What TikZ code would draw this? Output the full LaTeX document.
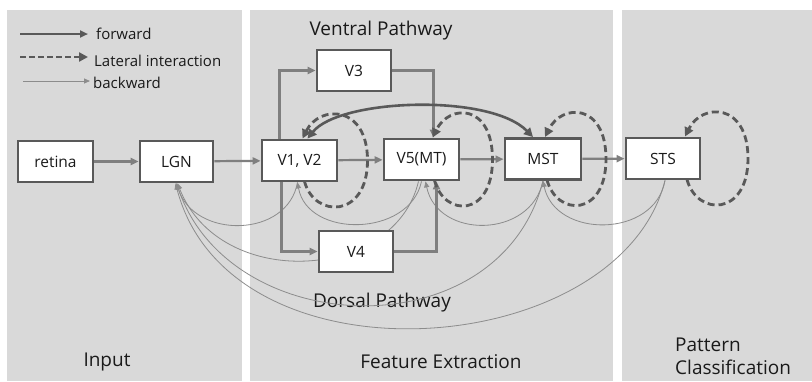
\documentclass[tikz,border=0pt]{standalone}
\usepackage{fontspec}
\setmainfont{Open Sans}
\usetikzlibrary{arrows.meta,calc}
\pgfdeclarelayer{bg}
\pgfsetlayers{bg,main}
\definecolor{panel}{HTML}{D9D9D9}
\definecolor{dark}{HTML}{595959}
\definecolor{fwdc}{HTML}{7F7F7F}
\definecolor{bwdc}{HTML}{8C8C8C}
\definecolor{txt}{HTML}{1A1A1A}
\tikzset{
  box/.style={draw=dark, line width=2.8pt, fill=white, minimum width=75pt, minimum height=41pt,
    inner sep=0pt, text=txt, font=\fontsize{15.5}{18}\selectfont},
  fwd/.style={draw=fwdc, line width=2.2pt, -{Triangle[length=8pt,width=7pt]}},
  thickfwd/.style={draw=dark, line width=2.6pt, {Triangle[length=9pt,width=9pt]}-{Triangle[length=9pt,width=9pt]}},
  lateral/.style={draw=dark, line width=2.8pt, dash pattern=on 7pt off 4pt, -{Triangle[length=9pt,width=9pt]}},
  bwd/.style={draw=bwdc, line width=0.8pt, -{Triangle[length=6pt,width=5pt]}},
  lbl/.style={text=txt, font=\fontsize{15}{18}\selectfont, inner sep=0pt},
  sect/.style={text=txt, font=\fontsize{19}{23}\selectfont, inner sep=0pt},
}
\newcommand{\latloop}[3]{%
  \draw[lateral] ($(#1.center)+(#2,21)$) .. controls ($(#1.center)+(#2+10,58)$) and ($(#1.center)+(#3,58)$) ..
    ($(#1.center)+(#3,0)$) .. controls ($(#1.center)+(#3,-56)$) and ($(#1.center)+(#2+15,-56)$) ..
    ($(#1.center)+(#2-2,-22)$);}
\begin{document}
\begin{tikzpicture}[x=1pt,y=-1pt]
\useasboundingbox (0,0) rectangle (812,381);
% panels
\begin{pgfonlayer}{bg}
\fill[panel] (7,10) rectangle (242,381);
\fill[panel] (250,10) rectangle (613,381);
\fill[panel] (622,10) rectangle (812,381);
\end{pgfonlayer}
% legend
\coordinate (lf0) at (20,34);
\coordinate (lf1) at (88,34);
\coordinate (ll0) at (20,57);
\coordinate (ll1) at (88,57);
\coordinate (lb0) at (23,81);
\coordinate (lb1) at (90,81);
\node[lbl, anchor=west] (lf) at (96,34) {forward};
\node[lbl, anchor=west] (ll) at (94,61) {Lateral interaction};
\node[lbl, anchor=west] (lb) at (93,83) {backward};
\draw[fwd, draw=dark] (lf0) -- (lf1);
\draw[lateral, dash pattern=on 6pt off 3pt] (ll0) -- (ll1);
\draw[bwd] (lb0) -- (lb1);
% section labels
\node[sect] (ventral) at (381,31) {Ventral Pathway};
\node[sect] (dorsal) at (382,303) {Dorsal Pathway};
\node[sect] (input) at (107,362) {Input};
\node[sect] (feat) at (441,362) {Feature Extraction};
\node[sect, anchor=west, align=left] (patt) at (675,356) {Pattern\\Classification};
% boxes
\node[box] (retina) at (55.5,161.5) {retina};
\node[box, minimum width=73pt] (LGN) at (176.5,161.5) {LGN};
\node[box] (V1) at (299.5,160.5) {V1, V2};
\node[box] (V5) at (421.5,159.5) {V5(MT)};
\node[box, minimum width=76pt] (MST) at (543,159) {MST};
\node[box, minimum width=74pt] (STS) at (663,158.5) {STS};
\node[box, minimum width=74pt] (V3) at (354,70.5) {V3};
\node[box, minimum width=74pt] (V4) at (356,251.5) {V4};
% backward connections
\begin{pgfonlayer}{bg}
\draw[bwd] ([xshift=-3pt]V5.south) .. controls +(-23.5,100) and +(42.5,108) .. ([xshift=1pt]LGN.south);
\end{pgfonlayer}
\draw[bwd] ([xshift=-2pt]V1.south) .. controls +(-10,56) and +(18,56) .. (LGN.south);
\draw[bwd] (V5.south) .. controls +(-12,56) and +(10,56) .. ([xshift=-2pt]V1.south);
\draw[bwd] (MST.south) .. controls +(-12,58) and +(12,58) .. ([xshift=4pt]V5.south);
\draw[bwd] (MST.south) .. controls +(-43,170) and +(53.5,158) .. (LGN.south);
\draw[bwd] ([xshift=2pt]STS.south) .. controls +(-10,58) and +(12,58) .. (MST.south);
\draw[bwd] ([xshift=2pt]STS.south) .. controls +(-45,181) and +(54.5,208) .. ([xshift=-1pt]LGN.south);
% forward connections
\draw[fwd] (retina) -- (LGN);
\draw[fwd] (LGN) -- (V1);
\draw[fwd] (V1) -- (V5);
\draw[fwd] (V5) -- (MST);
\draw[fwd] (MST) -- (STS);
\draw[fwd] ([xshift=-20pt]V1.north) |- (V3.west);
\draw[fwd] (V3.east) -| ([xshift=12pt]V5.north);
\draw[fwd] ([xshift=-18pt]V1.south) |- (V4.west);
\draw[fwd] (V4.east) -| ([xshift=15pt]V5.south);
% lateral loops
\latloop{V1}{5}{68}
\latloop{V5}{13}{71}
\latloop{MST}{4}{63}
\latloop{STS}{24}{85}
% long-range thick connection
\draw[thickfwd] ([xshift=8pt]V1.north) .. controls +(32,-40) and +(-43,-44) .. ([xshift=-10pt]MST.north);
\end{tikzpicture}
\end{document}
